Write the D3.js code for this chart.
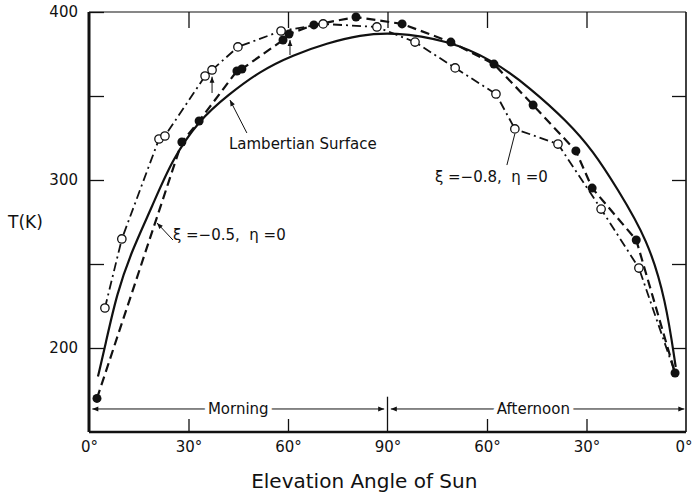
<!DOCTYPE html>
<html>
<head>
<meta charset="utf-8">
<script src="https://cdn.jsdelivr.net/npm/d3@7/dist/d3.min.js"></script>
<style>
body { margin: 0; background: #fff; }
text { font-family: "DejaVu Sans", sans-serif; fill: #111; }
</style>
</head>
<body>
<svg id="chart" width="693" height="497"></svg>
<script>
// position of the sun, 0 = sunrise horizon, 90 = zenith, 180 = sunset horizon
var xTicks = [0, 30, 60, 90, 120, 150, 180];
var xTickLabels = ["0°", "30°", "60°", "90°", "60°", "30°", "0°"];
var yTicks = [200, 250, 300, 350, 400];
var yTickLabels = ["200", "", "300", "", "400"];

// Lambertian surface (solid curve)
var lambertAngle = [2.7, 4.8, 8.4, 13.0, 19.0, 25.0, 33.2, 41.9, 51.6, 61.5, 71.8, 81.7, 91.7,
    107.9, 121.8, 133.0, 144.1, 152.0, 159.2, 168.5, 173.9, 176.9];
var lambertT = [183, 200.6, 232.7, 258.3, 284.0, 312.0, 335.7, 350.6, 364.9, 374.4, 381.5, 386.3, 388.1,
    383.3, 371.4, 354.8, 335.1, 317.3, 295.2, 264.3, 228.6, 188.7];

// xi = -0.5, eta = 0 (filled dots, dashed)
var xi05Angle = [2.4, 28.0, 33.2, 44.6, 46.1, 58.5, 60.3, 67.8, 80.5, 94.4, 109.1, 122.1, 133.9,
    146.8, 151.7, 165.0, 176.7];
var xi05T = [170, 322.6, 335.1, 364.9, 366.1, 383.3, 386.9, 392.3, 397.0, 392.9, 382.1, 369.0, 344.6,
    317.3, 295.2, 264.3, 185.1];

// xi = -0.8, eta = 0 (open dots, dash-dot)
var xi08Angle = [4.8, 9.9, 21.1, 22.9, 35.0, 37.1, 44.9, 57.9, 70.6, 86.8, 98.3, 110.4, 122.7,
    128.4, 141.4, 154.4, 165.8];
var xi08T = [223.8, 264.9, 324.4, 326.2, 361.9, 365.5, 379.2, 388.7, 392.9, 391.1, 382.1, 366.7, 351.2,
    330.4, 321.4, 282.7, 247.6];

let chart = d3.select("#chart"),
    margin = { top: 12, right: 7, bottom: 65, left: 89 },
    width = +chart.attr("width") - margin.left - margin.right,
    height = +chart.attr("height") - margin.top - margin.bottom;

let x = d3.scaleLinear().domain([0, 180]).range([0, width]);
let y = d3.scaleLinear().domain([150, 400]).range([height, 0]);

let defs = chart.append("defs");
defs.append("marker")
    .attr("id", "arrow")
    .attr("viewBox", "0 0 10 10")
    .attr("refX", 10).attr("refY", 5)
    .attr("markerUnits", "userSpaceOnUse")
    .attr("markerWidth", 7).attr("markerHeight", 6)
    .attr("orient", "auto")
    .append("path")
    .attr("d", "M0,1 L10,5 L0,9 Z")
    .attr("fill", "#111");

let focus = chart.append("g")
    .attr("transform", "translate(" + margin.left + "," + margin.top + ")");

function styleAxis(g) {
    g.select(".domain").remove();
    g.attr("font-family", null).attr("font-size", null);
    g.selectAll(".tick line").attr("stroke", "#111").attr("stroke-width", 1.3);
    g.selectAll(".tick text").style("font-size", "15px");
}

// axes, ticks pointing inside
let xAxis = d3.axisBottom(x)
    .tickValues(xTicks)
    .tickFormat((d, i) => xTickLabels[i])
    .tickSizeInner(-13).tickSizeOuter(0).tickPadding(9);
let xg = focus.append("g")
    .attr("class", "axis axis--x")
    .attr("transform", "translate(0," + height + ")")
    .call(xAxis)
    .call(styleAxis);
xg.selectAll(".tick line").filter(d => d === 0 || d === 90 || d === 180).remove();
// last label sits at the page edge: keep it inside
xg.selectAll(".tick text").filter(d => d === 180)
    .attr("text-anchor", "end").attr("dx", 6);

focus.append("g")
    .attr("class", "axis axis--top")
    .call(d3.axisTop(x).tickValues([30, 60, 90, 120, 150]).tickFormat("").tickSizeInner(-16).tickSizeOuter(0))
    .call(styleAxis);

focus.append("g")
    .attr("class", "axis axis--y")
    .call(d3.axisLeft(y).tickValues(yTicks).tickFormat((d, i) => yTickLabels[i])
        .tickSizeInner(-15).tickSizeOuter(0).tickPadding(11))
    .call(styleAxis);

focus.append("g")
    .attr("class", "axis axis--right")
    .attr("transform", "translate(" + width + ",0)")
    .call(d3.axisRight(y).tickValues([200, 250, 300, 350]).tickFormat("").tickSizeInner(-14).tickSizeOuter(0))
    .call(styleAxis);

// frame
focus.append("line").attr("x1", 0).attr("x2", width).attr("y1", 0).attr("y2", 0)
    .attr("stroke", "#111").attr("stroke-width", 1.2);
focus.append("line").attr("x1", width).attr("x2", width).attr("y1", 0).attr("y2", height)
    .attr("stroke", "#111").attr("stroke-width", 1.6);
focus.append("line").attr("x1", 0).attr("x2", width).attr("y1", height).attr("y2", height)
    .attr("stroke", "#111").attr("stroke-width", 2.5);
focus.append("line").attr("x1", 0).attr("x2", 0).attr("y1", 0).attr("y2", height)
    .attr("stroke", "#111").attr("stroke-width", 3);

// morning / afternoon
let dayY = y(163.7);
focus.append("line")
    .attr("x1", x(90)).attr("x2", x(90))
    .attr("y1", y(171)).attr("y2", height)
    .attr("stroke", "#111").attr("stroke-width", 1.3);
[[45, 1], [45, 89], [135, 91], [135, 179.5]].forEach(function (p) {
    focus.append("line")
        .attr("x1", x(p[0])).attr("x2", x(p[1]))
        .attr("y1", dayY).attr("y2", dayY)
        .attr("stroke", "#111").attr("stroke-width", 1)
        .attr("marker-end", "url(#arrow)");
});
[["Morning", 45], ["Afternoon", 134]].forEach(function (p) {
    focus.append("text")
        .attr("x", x(p[1])).attr("y", dayY)
        .attr("dy", "0.35em")
        .attr("text-anchor", "middle")
        .style("font-size", "15px")
        .style("stroke", "#fff").style("stroke-width", 9).style("paint-order", "stroke")
        .text(p[0]);
});

// curves
let lambertData = lambertAngle.map((a, i) => ({ a: a, t: lambertT[i] }));
let xi05Data = xi05Angle.map((a, i) => ({ a: a, t: xi05T[i] }));
let xi08Data = xi08Angle.map((a, i) => ({ a: a, t: xi08T[i] }));
// the dash-dot curve runs down to the common sunset point
let xi08Line = xi08Data.concat([xi05Data[xi05Data.length - 1]]);

focus.append("path")
    .datum(lambertData)
    .attr("d", d3.line().x(d => x(d.a)).y(d => y(d.t)).curve(d3.curveBasis))
    .style("stroke", "#111").style("fill", "none").style("stroke-width", "2.2px");

focus.append("path")
    .datum(xi05Data)
    .attr("d", d3.line().x(d => x(d.a)).y(d => y(d.t)))
    .style("stroke", "#111").style("fill", "none").style("stroke-width", "2.2px")
    .style("stroke-dasharray", "9,5");

focus.append("path")
    .datum(xi08Line)
    .attr("d", d3.line().x(d => x(d.a)).y(d => y(d.t)))
    .style("stroke", "#111").style("fill", "none").style("stroke-width", "1.8px")
    .style("stroke-dasharray", "9,4,2,4");

focus.selectAll(".dot05")
    .data(xi05Data).enter().append("circle")
    .attr("cx", d => x(d.a)).attr("cy", d => y(d.t)).attr("r", 4.5)
    .style("fill", "#111");

focus.selectAll(".dot08")
    .data(xi08Data).enter().append("circle")
    .attr("cx", d => x(d.a)).attr("cy", d => y(d.t)).attr("r", 4.2)
    .style("fill", "#fff").style("stroke", "#111").style("stroke-width", 1.3);

// annotations (data units)
let leaders = [
    { from: [47.6, 328], to: [42.5, 347.6], head: true },
    { from: [25.3, 264.3], to: [20.5, 274.4], head: true },
    { from: [126.0, 308.9], to: [128.4, 327.5], head: false },
    { from: [37.1, 351.8], to: [37.1, 361.5], head: true },
    { from: [60.6, 374.4], to: [60.6, 383.3], head: true }
];
leaders.forEach(function (l) {
    focus.append("line")
        .attr("x1", x(l.from[0])).attr("y1", y(l.from[1]))
        .attr("x2", x(l.to[0])).attr("y2", y(l.to[1]))
        .attr("stroke", "#111").attr("stroke-width", 1)
        .attr("marker-end", l.head ? "url(#arrow)" : null);
});

let labels = [
    { text: "Lambertian Surface", at: [42.2, 318.5] },
    { text: "ξ =−0.5,  η =0", at: [25.3, 264.5] },
    { text: "ξ =−0.8,  η =0", at: [104.3, 298.8] }
];
labels.forEach(function (l) {
    focus.append("text")
        .attr("x", x(l.at[0])).attr("y", y(l.at[1]))
        .style("font-size", "15px")
        .style("white-space", "pre")
        .text(l.text);
});

// axis titles
chart.append("text")
    .attr("x", 8).attr("y", 228)
    .style("font-size", "17px")
    .text("T(K)");

chart.append("text")
    .attr("x", margin.left + x(83)).attr("y", 488)
    .attr("text-anchor", "middle")
    .style("font-size", "20px")
    .text("Elevation Angle of Sun");
</script>
</body>
</html>
